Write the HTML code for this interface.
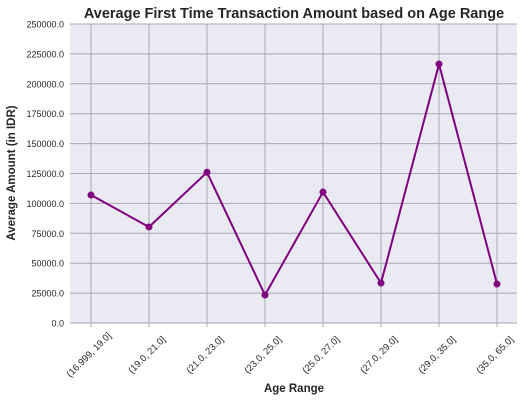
<!DOCTYPE html>
<html><head><meta charset="utf-8"><style>
body{margin:0;background:#fff;}
svg{display:block;font-family:"Liberation Sans",Arial,sans-serif;}
</style></head><body>
<svg id="chart" width="524" height="401">
<rect x="70" y="24" width="447" height="299" fill="#eaeaf2"/>
<g id="grid"></g>
<g id="marks"></g>
<text x="294" y="18" text-anchor="middle" font-size="14.5" font-weight="bold" fill="#262626">Average First Time Transaction Amount based on Age Range</text>
<text x="294" y="392" text-anchor="middle" font-size="11.5" font-weight="bold" fill="#262626">Age Range</text>
<text transform="translate(15,173) rotate(-90)" text-anchor="middle" font-size="11.5" font-weight="bold" fill="#262626">Average Amount (in IDR)</text>
</svg>
<script>
const categories=["(16.999, 19.0]","(19.0, 21.0]","(21.0, 23.0]","(23.0, 25.0]","(25.0, 27.0]","(27.0, 29.0]","(29.0, 35.0]","(35.0, 65.0]"];
const values=[107000,80300,126000,23400,109500,33400,216500,32600];
const yTicks=[0,25000,50000,75000,100000,125000,150000,175000,200000,225000,250000];
const NS="http://www.w3.org/2000/svg";
const L=70,R=517,T=24,B=323,yMax=250000;
const xs=i=>91+i*(497-91)/(categories.length-1);
const ys=v=>B-v/yMax*(B-T);
const grid=document.getElementById('grid'),marks=document.getElementById('marks');
function mk(tag,attrs,parent){const e=document.createElementNS(NS,tag);for(const k in attrs)e.setAttribute(k,attrs[k]);parent.appendChild(e);return e;}
yTicks.forEach(t=>{
  const y=ys(t);
  const g=mk('line',{x1:L,x2:R,y1:y,y2:y,stroke:'#a8a8b0','stroke-width':1},grid);
  
  
  const tx=mk('text',{x:L-6,y:y+3.5,'text-anchor':'end','font-size':9,fill:'#262626'},grid);
  tx.textContent=t.toFixed(1);
  
  
});
categories.forEach((c,i)=>{
  const x=xs(i);
  const g=mk('line',{x1:x,x2:x,y1:T,y2:B+4,stroke:'#a8a8b0','stroke-width':1},grid);
  
  
  const tx=mk('text',{transform:`translate(${x},${B+34}) rotate(-45)`,'text-anchor':'middle','font-size':9.5,fill:'#262626'},grid);
  tx.textContent=c;
  
  
});
const pts=values.map((v,i)=>xs(i)+','+ys(v)).join(' ');
const line=mk('polyline',{points:pts,fill:'none',stroke:'#800080','stroke-width':2},marks);


values.forEach((v,i)=>{
  const c=mk('circle',{cx:xs(i),cy:ys(v),r:3.5,fill:'#800080'},marks);
  
  
});
</script>
</body></html>
